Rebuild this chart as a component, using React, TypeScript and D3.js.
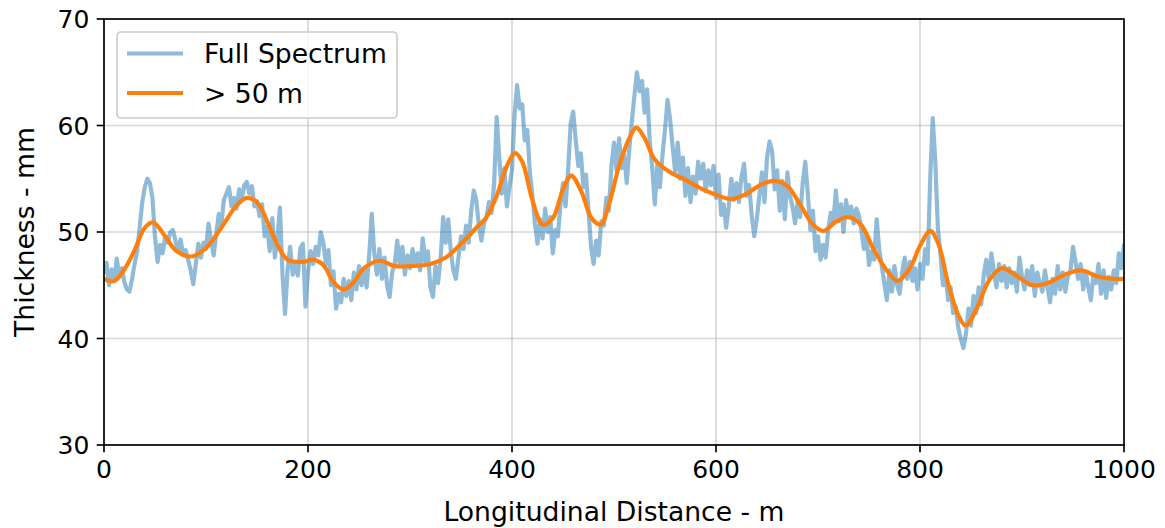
import React from "react";
import * as d3 from "d3";

// ---------- data ----------
const distanceStep = 2.5; // m between Full Spectrum samples
const fullSpectrum: number[] = [
  46.2, 47.1, 45.0, 46.5, 45.4, 47.5, 45.8, 46.6,
  45.3, 44.6, 44.4, 45.6, 47.0, 48.2, 50.5, 52.8,
  54.2, 55.0, 54.6, 53.2, 49.5, 47.2, 48.8, 48.0,
  49.6, 49.0, 50.0, 50.2, 49.2, 48.2, 49.3, 47.9,
  48.3, 47.4, 46.4, 45.1, 47.0, 48.9, 47.6, 49.0,
  48.4, 50.8, 49.2, 47.8, 49.8, 51.7, 50.6, 53.0,
  53.6, 54.2, 52.4, 53.2, 52.2, 54.0, 53.0, 54.4,
  54.7, 53.6, 54.3, 52.4, 52.9, 51.5, 52.6, 49.6,
  50.5, 48.2, 51.3, 47.6, 49.4, 52.3, 46.0, 42.3,
  46.5, 48.6, 46.0, 47.2, 45.9, 48.5, 48.9, 43.0,
  46.2, 48.2, 47.0, 48.6, 47.8, 50.0, 49.0, 47.0,
  48.3, 45.0, 46.3, 42.8, 44.2, 43.4, 45.6, 44.0,
  45.4, 43.6, 46.2, 44.6, 46.8, 45.0, 46.4, 44.8,
  47.8, 51.7, 48.0, 46.0, 48.4, 45.6, 47.6, 45.0,
  43.9, 46.2, 47.0, 49.2, 46.8, 48.6, 46.0, 47.8,
  46.6, 48.4, 46.9, 48.0, 46.4, 49.4, 47.2, 48.2,
  44.8, 43.9, 46.8, 45.2, 47.5, 51.4, 49.0, 51.2,
  48.2, 46.4, 45.6, 47.6, 49.6, 48.4, 50.6, 49.0,
  52.0, 53.9, 53.0, 50.6, 49.2, 50.8, 51.4, 52.8,
  51.8, 54.6, 60.8, 57.0, 53.6, 56.0, 52.4, 54.2,
  55.8, 61.0, 63.8, 61.6, 62.0, 58.6, 59.6, 55.6,
  53.4, 50.8, 48.9, 51.2, 49.4, 52.2, 50.0, 51.4,
  48.0, 50.2, 49.6, 52.6, 54.6, 52.4, 55.8, 60.2,
  61.3, 58.6, 56.2, 57.4, 54.2, 55.4, 52.0, 48.6,
  47.0, 49.2, 47.8, 51.0, 50.6, 53.2, 52.0, 56.2,
  58.4, 55.8, 58.8, 56.0, 57.2, 54.6, 57.8, 60.4,
  62.8, 65.0, 63.2, 64.2, 61.2, 63.4, 58.6, 56.0,
  52.6, 56.4, 54.2, 57.2, 59.6, 62.4, 60.6, 58.0,
  55.6, 58.4, 55.0, 57.0, 53.4, 56.0, 52.8, 55.2,
  53.6, 56.6, 55.0, 56.4, 53.8, 55.8, 54.4, 56.2,
  53.2, 55.4, 51.6, 52.6, 50.4, 52.4, 55.0, 53.0,
  54.6, 52.8, 55.2, 56.4, 53.4, 54.4, 51.6, 49.6,
  51.2, 53.4, 55.6, 52.8, 57.0, 58.5, 57.6, 54.0,
  55.8, 52.0, 54.8, 51.2, 55.6, 53.4, 52.4, 50.8,
  52.8, 51.4, 54.6, 56.6, 53.6, 50.2, 52.0, 48.2,
  49.6, 47.4, 48.8, 47.6, 50.2, 51.8, 50.8, 53.9,
  51.0, 52.6, 50.0, 53.0, 51.4, 52.4, 50.8, 52.2,
  51.6, 50.2, 48.4, 49.8, 46.9, 48.2, 47.4, 51.2,
  48.4, 46.8, 45.2, 43.6, 46.4, 44.4, 46.8, 45.0,
  44.2, 46.2, 47.6, 45.6, 47.2, 45.4, 46.6, 44.6,
  47.0, 45.6, 48.4, 47.0, 55.0, 60.7, 56.6, 50.4,
  48.0, 45.0, 46.2, 43.6, 44.8, 42.4, 43.0, 41.0,
  40.0, 39.1, 40.4, 42.8, 41.2, 44.0, 42.4, 44.8,
  43.2, 46.0, 47.4, 45.6, 48.0, 46.2, 44.8, 47.0,
  45.4, 46.8, 44.8, 46.6, 45.2, 46.2, 44.4, 47.6,
  45.8, 44.6, 46.4, 45.0, 46.8, 44.0, 46.2, 45.2,
  44.4, 46.4, 44.8, 43.4, 45.6, 44.2, 46.8, 44.6,
  46.2, 44.4, 45.8, 46.4, 48.6, 47.2, 45.6, 47.0,
  44.6, 46.2, 44.8, 43.6, 46.0, 45.2, 47.0, 44.2,
  46.4, 43.8, 45.8, 44.6, 46.4, 45.2, 48.0, 46.6,
  48.8,
];

const smoothDistance: number[] = [
  0, 10, 20, 30, 40, 48, 60, 70, 85, 100, 115, 130, 140, 150, 160, 170, 180,
  195, 205, 215, 225, 235, 245, 255, 270, 285, 300, 320, 335, 350, 365, 375,
  385, 395, 403, 410, 420, 430, 440, 450, 458, 468, 478, 487, 495, 505, 515,
  522, 530, 540, 555, 570, 585, 600, 615, 630, 645, 658, 670, 683, 695, 705,
  718, 730, 742, 755, 768, 778, 790, 800, 810, 818, 828, 838, 845, 855, 868,
  880, 893, 910, 925, 942, 958, 975, 990, 1000,
];
const smoothThickness: number[] = [
  45.6, 45.4, 46.5, 48.3, 50.4, 50.9, 49.6, 48.3, 47.7, 48.5, 50.4, 52.5, 53.2,
  52.8, 51.0, 48.8, 47.4, 47.2, 47.4, 46.9, 45.3, 44.6, 45.3, 46.6, 47.3, 46.8,
  46.8, 47.0, 47.6, 48.9, 50.4, 51.4, 53.4, 56.2, 57.4, 56.6, 53.0, 50.7, 51.3,
  54.0, 55.3, 53.8, 51.3, 50.7, 52.6, 56.2, 58.8, 59.8, 58.8, 56.8, 55.6, 54.9,
  54.1, 53.5, 53.1, 53.6, 54.5, 54.8, 54.3, 52.5, 50.7, 50.1, 51.0, 51.4, 50.7,
  48.3, 46.3, 45.4, 46.6, 48.7, 50.1, 48.9, 45.0, 42.1, 41.2, 42.7, 45.5, 46.6,
  46.0, 45.0, 45.2, 46.0, 46.4, 45.8, 45.6, 45.6,
];

const xTicks: number[] = [0, 200, 400, 600, 800, 1000];
const yTicks: number[] = [30, 40, 50, 60, 70];
const legendLabels: string[] = ["Full Spectrum", "> 50 m"];
const seriesColors: string[] = ["#1f77b4", "#ff7f0e"];

// ---------- layout ----------
const W = 1165;
const H = 528;
const plot = { left: 104, right: 1124, top: 19, bottom: 445 };
const FONT = "DejaVu Sans, sans-serif";
const FS_TICK = 25;
const FS_LABEL = 26.6;

export default function App() {
  const x = d3.scaleLinear().domain([0, 1000]).range([plot.left, plot.right]);
  const y = d3.scaleLinear().domain([30, 70]).range([plot.bottom, plot.top]);

  const fullPts: [number, number][] = fullSpectrum.map((v, i) => [i * distanceStep, v]);
  const smoothPts: [number, number][] = smoothDistance.map((d, i) => [d, smoothThickness[i]]);

  const line = d3
    .line<[number, number]>()
    .x((p) => x(p[0]))
    .y((p) => y(p[1]));
  const smoothLine = d3
    .line<[number, number]>()
    .x((p) => x(p[0]))
    .y((p) => y(p[1]))
    .curve(d3.curveCatmullRom.alpha(0.5));

  const tickLen = 7.3;
  const lw = 1.67;

  const legend = { x: 117, y: 32, w: 280, h: 86 };

  return (
    <svg
      width={W}
      height={H}
      style={{ position: "absolute", left: 0, top: 0, background: "#fff" }}
      fontFamily={FONT}
    >
      <rect x={0} y={0} width={W} height={H} fill="#fff" />
      <defs>
        <clipPath id="plotclip">
          <rect
            x={plot.left}
            y={plot.top}
            width={plot.right - plot.left}
            height={plot.bottom - plot.top}
          />
        </clipPath>
      </defs>
      {/* grid */}
      <g stroke="#b0b0b0" strokeOpacity={0.5} strokeWidth={lw}>
        {xTicks.map((t) => (
          <line key={"gx" + t} x1={x(t)} x2={x(t)} y1={plot.top} y2={plot.bottom} />
        ))}
        {yTicks.map((t) => (
          <line key={"gy" + t} x1={plot.left} x2={plot.right} y1={y(t)} y2={y(t)} />
        ))}
      </g>
      {/* series */}
      <g clipPath="url(#plotclip)">
        <path
          d={line(fullPts) || ""}
          fill="none"
          stroke={seriesColors[0]}
          strokeOpacity={0.5}
          strokeWidth={4.17}
          strokeLinejoin="round"
          strokeLinecap="round"
        />
        <path
          d={smoothLine(smoothPts) || ""}
          fill="none"
          stroke={seriesColors[1]}
          strokeWidth={4.17}
          strokeLinejoin="round"
          strokeLinecap="round"
        />
      </g>
      {/* spines */}
      <rect
        x={plot.left}
        y={plot.top}
        width={plot.right - plot.left}
        height={plot.bottom - plot.top}
        fill="none"
        stroke="#000"
        strokeWidth={lw}
      />
      {/* x ticks */}
      <g>
        {xTicks.map((t) => (
          <g key={"xt" + t}>
            <line
              x1={x(t)}
              x2={x(t)}
              y1={plot.bottom}
              y2={plot.bottom + tickLen}
              stroke="#000"
              strokeWidth={lw}
            />
            <text
              x={x(t)}
              y={plot.bottom + tickLen + 7.3 + 18.2}
              textAnchor="middle"
              fontSize={FS_TICK}
              fill="#000"
            >
              {t}
            </text>
          </g>
        ))}
      </g>
      {/* y ticks */}
      <g>
        {yTicks.map((t) => (
          <g key={"yt" + t}>
            <line
              x1={plot.left - tickLen}
              x2={plot.left}
              y1={y(t)}
              y2={y(t)}
              stroke="#000"
              strokeWidth={lw}
            />
            <text
              x={plot.left - tickLen - 7.3}
              y={y(t) + 9.1}
              textAnchor="end"
              fontSize={FS_TICK}
              fill="#000"
            >
              {t}
            </text>
          </g>
        ))}
      </g>
      {/* axis labels */}
      <text
        x={(plot.left + plot.right) / 2}
        y={521}
        textAnchor="middle"
        fontSize={FS_LABEL}
        fill="#000"
      >
        Longitudinal Distance - m
      </text>
      <text
        transform={`translate(${34},${(plot.top + plot.bottom) / 2}) rotate(-90)`}
        textAnchor="middle"
        fontSize={FS_LABEL}
        fill="#000"
      >
        Thickness - mm
      </text>
      {/* legend */}
      <g>
        <rect
          x={legend.x}
          y={legend.y}
          width={legend.w}
          height={legend.h}
          rx={4}
          ry={4}
          fill="#fff"
          fillOpacity={0.8}
          stroke="#cccccc"
          strokeWidth={lw}
        />
        {legendLabels.map((lab, i) => {
          const cy = 53.5 + i * 39.5;
          return (
            <g key={lab}>
              <line
                x1={127}
                x2={183}
                y1={cy}
                y2={cy}
                stroke={seriesColors[i]}
                strokeOpacity={i === 0 ? 0.5 : 1}
                strokeWidth={4.17}
              />
              <text x={204} y={cy + 9.7} fontSize={FS_LABEL} fill="#000">
                {lab}
              </text>
            </g>
          );
        })}
      </g>
    </svg>
  );
}
